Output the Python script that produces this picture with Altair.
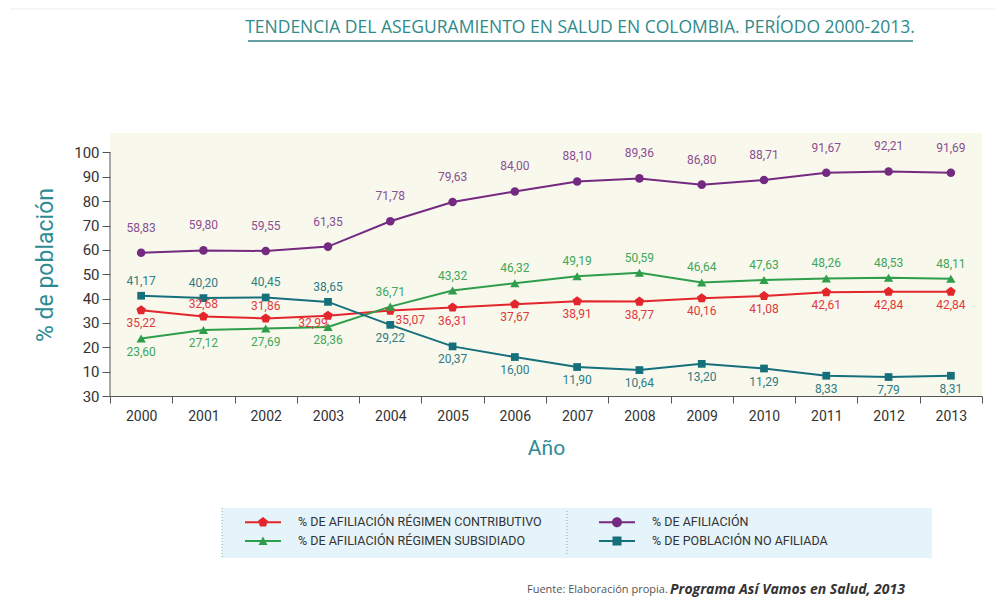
import altair as alt
import pandas as pd

# ---------------- data ----------------
years = [str(y) for y in range(2000, 2014)]
contributivo = [35.22, 32.68, 31.86, 32.99, 35.07, 36.31, 37.67, 38.91, 38.77, 40.16, 41.08, 42.61, 42.84, 42.84]
subsidiado = [23.60, 27.12, 27.69, 28.36, 36.71, 43.32, 46.32, 49.19, 50.59, 46.64, 47.63, 48.26, 48.53, 48.11]
afiliacion = [58.83, 59.80, 59.55, 61.35, 71.78, 79.63, 84.00, 88.10, 89.36, 86.80, 88.71, 91.67, 92.21, 91.69]
no_afiliada = [41.17, 40.20, 40.45, 38.65, 29.22, 20.37, 16.00, 11.90, 10.64, 13.20, 11.29, 8.33, 7.79, 8.31]

S_CONT = "% de afiliación Régimen Contributivo"
S_SUBS = "% de afiliación Régimen Subsidiado"
S_AFIL = "% de afiliación"
S_NOAF = "% de población no afiliada"
names = [S_CONT, S_SUBS, S_AFIL, S_NOAF]
y_ticks = list(range(0, 101, 10))

# ---------------- styles ----------------
FONT = "Roboto"
line_colors = {S_CONT: "#e3262b", S_SUBS: "#2e9e4a", S_AFIL: "#742a80", S_NOAF: "#15707c"}
label_colors = {S_CONT: "#e0393c", S_SUBS: "#3fa65a", S_AFIL: "#8a4e93", S_NOAF: "#2e7c86"}
pent = "M0,-1L0.951,-0.309L0.588,0.809L-0.588,0.809L-0.951,-0.309Z"
shapes = {S_CONT: pent, S_SUBS: "triangle-up", S_AFIL: "circle", S_NOAF: "square"}
sizes = {S_CONT: 100, S_SUBS: 60, S_AFIL: 90, S_NOAF: 72}

LINE = "M0.9,-0.1H4.5V0.1H0.9Z "
legend_paths = {
    S_CONT: LINE + "M2.7,-0.52L3.19,-0.16L3.0,0.42L2.4,0.42L2.21,-0.16Z",
    S_SUBS: LINE + "M2.7,-0.45L3.15,0.4L2.25,0.4Z",
    S_AFIL: LINE + "M3.2,0A0.5,0.5 0 1,1 2.2,0A0.5,0.5 0 1,1 3.2,0Z",
    S_NOAF: LINE + "M2.25,-0.45H3.15V0.45H2.25Z",
}

offsets = {
    "arriba_lejos": (0, -25),
    "arriba": (0, -15),
    "arriba_cerca": (0, -12),
    "abajo": (0, 13),
    "izquierda": (-15, 7),
    "derecha": (20, 9),
}


def label_pos(serie, year):
    y = int(year)
    if serie == S_AFIL:
        return "arriba_lejos"
    if serie == S_CONT:
        if y in (2001, 2002):
            return "arriba_cerca"
        if y == 2003:
            return "izquierda"
        if y == 2004:
            return "derecha"
        return "abajo"
    if serie == S_SUBS:
        return "abajo" if y <= 2003 else "arriba"
    if serie == S_NOAF:
        return "arriba" if y <= 2003 else "abajo"


series = {S_CONT: contributivo, S_SUBS: subsidiado, S_AFIL: afiliacion, S_NOAF: no_afiliada}
rows = []
for name in names:
    for yr, v in zip(years, series[name]):
        rows.append({
            "anio": yr, "serie": name, "valor": v,
            "etiqueta": f"{v:.2f}".replace(".", ","),
            "pos": label_pos(name, yr),
        })
df = pd.DataFrame(rows)
one = pd.DataFrame({"k": [0]})

# ---------------- encodings ----------------
x = alt.X("anio:O",
          scale=alt.Scale(type="band", paddingInner=0, paddingOuter=0),
          axis=alt.Axis(title="Año", tickBand="extent", labelAngle=0, labelFont=FONT,
                        labelFontSize=14, labelColor="#333", labelPadding=6, tickSize=7,
                        tickColor="#555", domainColor="#555", titleFont=FONT, titleFontSize=21,
                        titleFontWeight="normal", titleColor="#2e8a93", titlePadding=14))
y_scale = alt.Scale(domain=[0, 108], nice=False, zero=True)
y_axis = alt.Axis(title="% de población", values=y_ticks, grid=False, domain=False,
                  labelOverlap=False,
                  labelExpr="datum.value == 0 ? '30' : datum.label",
                  labelFont=FONT, labelFontSize=15, labelColor="#333", labelPadding=3,
                  tickSize=8, tickColor="#555", titleFont=FONT, titleFontSize=23,
                  titleFontWeight="normal", titleColor="#2e8a93", titlePadding=16)
y = alt.Y("valor:Q", scale=y_scale, axis=y_axis)

color_lines = alt.Color("serie:N", scale=alt.Scale(domain=names, range=[line_colors[n] for n in names]),
                        legend=None)

base = alt.Chart(df)

y_axis_line = alt.Chart(one).mark_rule(color="#555", strokeWidth=1).encode(
    x=alt.value(0),
    y=alt.Y(datum=0, scale=y_scale, axis=y_axis, title="% de población"),
    y2=alt.Y2(datum=100))

lines = base.mark_line(strokeWidth=2).encode(x=x, y=y, color=color_lines)

points = base.mark_point(filled=True, opacity=1, strokeWidth=0).encode(
    x=x, y=y, color=color_lines,
    shape=alt.Shape("serie:N", scale=alt.Scale(domain=names, range=[shapes[n] for n in names]), legend=None),
    size=alt.Size("serie:N", scale=alt.Scale(domain=names, range=[sizes[n] for n in names]), legend=None),
)

text_layers = []
for key, (dx, dy) in offsets.items():
    text_layers.append(
        base.transform_filter(alt.datum.pos == key).mark_text(
            font=FONT, fontSize=12, dx=dx, dy=dy, align="center", baseline="middle"
        ).encode(
            x=x, y=y, text="etiqueta:N",
            color=alt.Color("serie:N", scale=alt.Scale(domain=names, range=[label_colors[n] for n in names]),
                            legend=None),
        )
    )

leg = alt.Legend(orient="none", legendX=112, legendY=375, columns=2, title=None,
                 padding=4, symbolSize=400, symbolStrokeWidth=0,
                 labelFont=FONT, labelFontSize=12.5, labelColor="#333",
                 labelExpr="upper(datum.label)", labelOffset=52, labelLimit=400,
                 rowPadding=2, columnPadding=38, gridAlign="all")
legend_layer = base.transform_filter("false").mark_point(filled=True, opacity=1).encode(
    x=x, y=y,
    color=alt.Color("serie:N", scale=alt.Scale(domain=names,
                                               range=[line_colors[n] for n in names]), legend=leg),
    shape=alt.Shape("serie:N", scale=alt.Scale(domain=names,
                                               range=[legend_paths[n] for n in names]), legend=leg),
)

# decorations (page-relative positions converted to plot-relative)
legend_bg = alt.Chart(one).mark_rect(color="#e5f3fa").encode(
    x=alt.value(112), x2=alt.value(822), y=alt.value(375), y2=alt.value(425))
title = alt.Chart(one).mark_text(
    text="TENDENCIA DEL ASEGURAMIENTO EN SALUD EN COLOMBIA. PERÍODO 2000-2013.",
    font="Open Sans", fontSize=17.5, color="#2f8a8a", align="center", baseline="middle"
).encode(x=alt.value(470), y=alt.value(-105))
underline = alt.Chart(one).mark_rule(color="#2f7f85", strokeWidth=1.5).encode(
    x=alt.value(138), x2=alt.value(803), y=alt.value(-92))
top_line = alt.Chart(one).mark_rule(color="#ececec", strokeWidth=1).encode(
    x=alt.value(-100), x2=alt.value(890), y=alt.value(-124))
sep_left = alt.Chart(one).mark_rule(color="#8aa", strokeWidth=1, strokeDash=[1, 2]).encode(
    x=alt.value(112), y=alt.value(375), y2=alt.value(425))
sep_mid = alt.Chart(one).mark_rule(color="#8aa", strokeWidth=1, strokeDash=[1, 2]).encode(
    x=alt.value(457), y=alt.value(378), y2=alt.value(422))
src1 = alt.Chart(one).mark_text(
    text="Fuente: Elaboración propia.", font="Open Sans", fontSize=11, color="#555",
    align="left", baseline="middle").encode(x=alt.value(417), y=alt.value(457))
src2 = alt.Chart(one).mark_text(
    text="Programa Así Vamos en Salud, 2013", font="Open Sans", fontSize=14, fontStyle="italic",
    fontWeight="bold", color="#333", align="left", baseline="middle").encode(x=alt.value(560), y=alt.value(457))

chart = alt.layer(
    legend_bg, lines, points, *text_layers, legend_layer, y_axis_line,
    title, underline, top_line, sep_left, sep_mid, src1, src2
).resolve_scale(
    color="independent", shape="independent", size="independent"
).resolve_legend(
    color="independent", shape="independent"
).properties(
    width=872, height=263,
    autosize=alt.AutoSizeParams(type="none"),
    padding={"left": 102, "top": 125, "right": 13, "bottom": 212},
    background="white",
).configure_view(fill="#f8f8ec", stroke=None).configure_axisY(labelOverlap=False)

chart.save("out.html", embed_options={"renderer": "svg", "actions": False})
